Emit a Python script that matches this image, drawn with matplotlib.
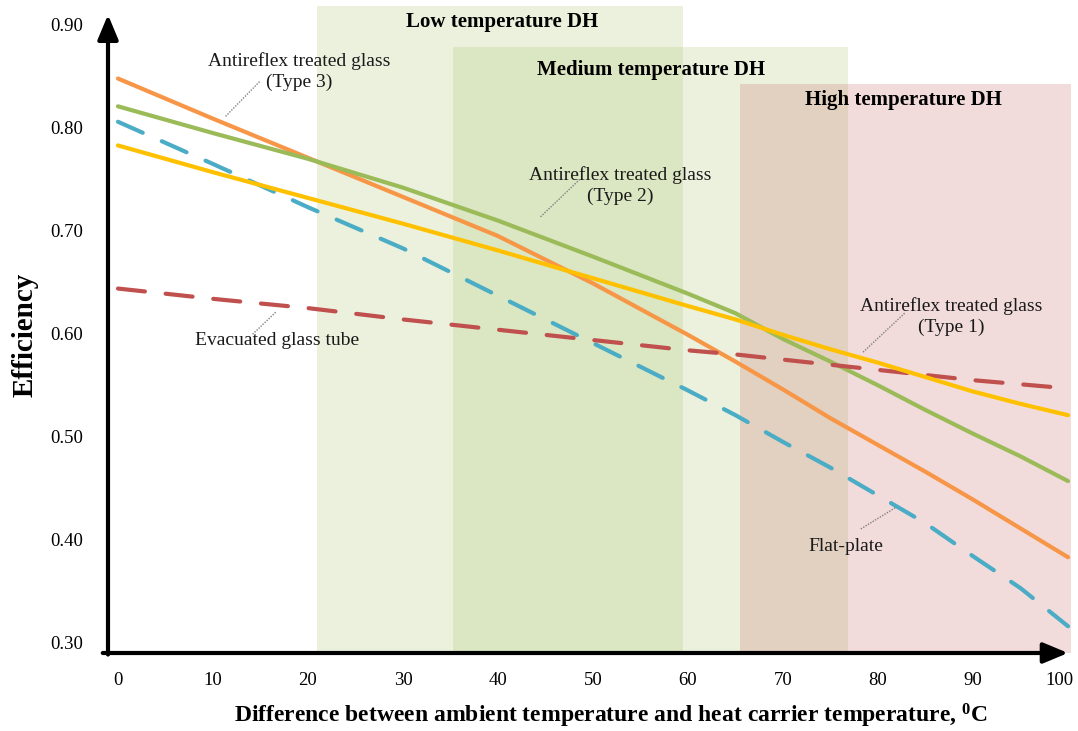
import matplotlib
matplotlib.use("Agg")
import matplotlib.pyplot as plt
import matplotlib.transforms as mtransforms

plt.rcParams["font.family"] = ["Liberation Serif", "DejaVu Serif"]

# temperature difference, deg C
x = [0, 10, 20, 30, 40, 50, 60, 65, 70, 75, 80, 85, 90, 95, 100]

# efficiency curves
type3 = [0.848, 0.809, 0.771, 0.733, 0.695, 0.649, 0.599, 0.573, 0.546,
         0.518, 0.492, 0.466, 0.439, 0.411, 0.383]
type2 = [0.821, 0.795, 0.770, 0.742, 0.710, 0.675, 0.639, 0.620, 0.595,
         0.573, 0.550, 0.526, 0.503, 0.481, 0.457]
type1 = [0.783, 0.757, 0.732, 0.707, 0.681, 0.654, 0.627, 0.614, 0.599,
         0.585, 0.572, 0.558, 0.544, 0.532, 0.521]
flat_plate = [0.806, 0.765, 0.723, 0.683, 0.637, 0.591, 0.545, 0.521, 0.495,
              0.470, 0.443, 0.416, 0.384, 0.353, 0.316]
evacuated = [0.644, 0.634, 0.625, 0.614, 0.604, 0.594, 0.584, 0.580, 0.575,
             0.570, 0.565, 0.560, 0.555, 0.551, 0.547]

# district heating ranges: (start, end, top of box)
zones = {
    "Low temperature DH": (20.9, 59.5, 0.918),
    "Medium temperature DH": (35.3, 76.8, 0.879),
    "High temperature DH": (65.5, 100.3, 0.843),
}

xticks = [0, 10, 20, 30, 40, 50, 60, 70, 80, 90, 100]
yticks = [0.30, 0.40, 0.50, 0.60, 0.70, 0.80, 0.90]

fig = plt.figure(figsize=(10.78, 7.31), dpi=100)
ax = fig.add_axes([108 / 1078, 78 / 731, 970 / 1078, 648.6 / 731])
ax.set_xlim(-1.05, 101.05)
ax.set_ylim(0.29, 0.92)

zone_cols = ["#9bbb59", "#9bbb59", "#c0504d"]
for (name, (x0, x1, top)), c in zip(zones.items(), zone_cols):
    ax.fill_between([x0, x1], 0.29, top, color=c, alpha=0.2, lw=0, zorder=0)

ax.text(40.4, 0.903, "Low temperature DH", ha="center", va="center",
        fontsize=15, fontweight="bold")
ax.text(56.1, 0.856, "Medium temperature DH", ha="center", va="center",
        fontsize=15, fontweight="bold")
ax.text(82.7, 0.827, "High temperature DH", ha="center", va="center",
        fontsize=15, fontweight="bold")

lw = 3
ax.plot(x, type3, color="#f79646", lw=lw, solid_capstyle="round", zorder=3)
ax.plot(x, type2, color="#9bbb59", lw=lw, solid_capstyle="round", zorder=3)
ax.plot(x, type1, color="#ffc000", lw=lw, solid_capstyle="round", zorder=4)
ax.plot(x, flat_plate, color="#4bacc6", lw=lw, ls=(0, (6.5, 5)),
        dash_capstyle="round", zorder=3)
ax.plot(x, evacuated, color="#c0504d", lw=lw, ls=(0, (6.5, 5)),
        dash_capstyle="round", zorder=3)

# callouts with dotted leader lines
notes = [
    ("Antireflex treated glass\n(Type 3)", (19.05, 0.855), (14.9, 0.845), (11.3, 0.811)),
    ("Antireflex treated glass\n(Type 2)", (52.9, 0.744), (48.6, 0.750), (44.4, 0.713)),
    ("Antireflex treated glass\n(Type 1)", (87.7, 0.617), (82.8, 0.620), (78.4, 0.582)),
    ("Evacuated glass tube", (16.7, 0.594), (16.6, 0.621), (14.1, 0.599)),
    ("Flat-plate", (76.6, 0.393), (81.8, 0.431), (78.1, 0.410)),
]
for txt, pos, p0, p1 in notes:
    ax.text(pos[0], pos[1], txt, ha="center", va="center", fontsize=14,
            color="#1a1a1a", linespacing=1.25, zorder=5)
    ax.plot([p0[0], p1[0]], [p0[1], p1[1]], color="#808080", lw=1,
            ls=(0, (1, 1)), zorder=5)

# axes drawn as arrows
arrow = dict(arrowstyle="-|>,head_length=0.6,head_width=0.25", lw=3,
             color="black", mutation_scale=25, shrinkA=0, shrinkB=0)
ax.annotate("", xy=(-1.05, 0.91), xytext=(-1.05, 0.2885), arrowprops=arrow,
            zorder=6)
ax.annotate("", xy=(100.0, 0.29), xytext=(-1.6, 0.29), arrowprops=arrow,
            zorder=6)

for s in ax.spines.values():
    s.set_visible(False)
ax.set_xticks(xticks)
ax.set_yticks(yticks)
ax.set_yticklabels(["%.2f" % v for v in yticks])
ax.tick_params(axis="both", length=0, labelsize=13.5)
ax.tick_params(axis="x", pad=14)
ax.tick_params(axis="y", pad=18)

# last x label sits at the figure edge, nudge it left
last = ax.get_xticklabels()[-1]
last.set_transform(last.get_transform() +
                   mtransforms.ScaledTranslation(-9 / 100, 0, fig.dpi_scale_trans))

ax.set_xlabel("Difference between ambient temperature and heat carrier temperature, $\\mathregular{^0}$C",
              fontsize=17, fontweight="bold")
ax.xaxis.set_label_coords((611 - 108) / 970, -0.075)
ax.set_ylabel("Efficiency", fontsize=21, fontweight="bold")
ax.yaxis.set_label_coords(-0.086, 0.49)
ax.yaxis.label.set_va("center")

fig.savefig("out.png", dpi=100)
